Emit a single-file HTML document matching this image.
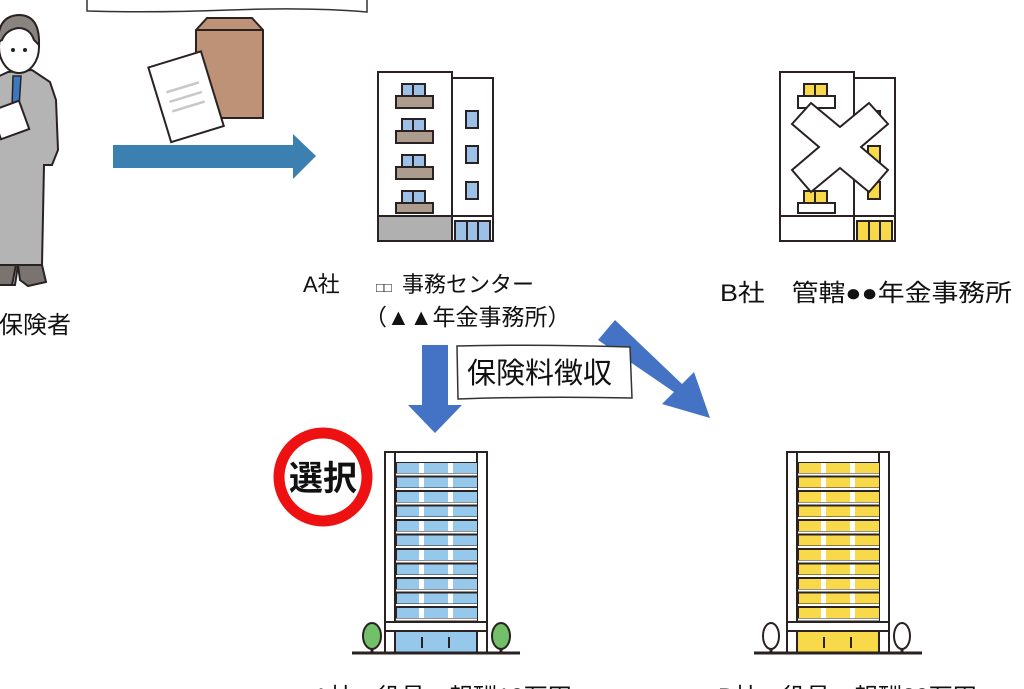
<!DOCTYPE html>
<html><head><meta charset="utf-8"><style>
html,body{margin:0;padding:0;background:#fff;}
svg{display:block;}
text{font-family:"Liberation Sans","Noto Sans CJK JP",sans-serif;fill:#111;}
</style></head><body>
<svg width="1024" height="689" viewBox="0 0 1024 689" xmlns="http://www.w3.org/2000/svg">
<defs>
<g id="rowA">
<rect x="396" y="0" width="81" height="14.5" fill="#2a2222"/>
<rect x="397" y="1" width="22" height="10" fill="#95c8ea"/>
<rect x="424" y="1" width="24" height="10" fill="#95c8ea"/>
<rect x="453" y="1" width="24" height="10" fill="#95c8ea"/>
<rect x="419" y="1" width="5" height="10" fill="#fff"/>
<rect x="448" y="1" width="5" height="10" fill="#fff"/>
<rect x="396" y="11.5" width="81" height="2" fill="#fff"/>
</g>
<g id="rowB">
<rect x="396" y="0" width="81" height="14.5" fill="#2a2222"/>
<rect x="397" y="1" width="22" height="10" fill="#f8d94a"/>
<rect x="424" y="1" width="24" height="10" fill="#f8d94a"/>
<rect x="453" y="1" width="24" height="10" fill="#f8d94a"/>
<rect x="419" y="1" width="5" height="10" fill="#fff"/>
<rect x="448" y="1" width="5" height="10" fill="#fff"/>
<rect x="396" y="11.5" width="81" height="2" fill="#fff"/>
</g>
</defs>
<path d="M87,-5 L87,11 Q150,13 230,10 T367,12 L367,-5" fill="#fff" stroke="#333" stroke-width="1.5"/>
<path d="M196,30 L207,18 L252,18 L263,30 L263,118 L196,118 Z" fill="#bd9276" stroke="#2a2222" stroke-width="2"/>
<line x1="196" y1="30" x2="263" y2="30" stroke="#2a2222" stroke-width="2"/>
<g transform="rotate(-17 185 95)">
<rect x="158" y="58" width="55" height="78" fill="#fff" stroke="#2a2222" stroke-width="2"/>
<line x1="168" y1="87" x2="202" y2="87" stroke="#c8c8c8" stroke-width="2.5"/>
<line x1="168" y1="97" x2="202" y2="97" stroke="#c8c8c8" stroke-width="2.5"/>
<line x1="168" y1="107" x2="202" y2="107" stroke="#c8c8c8" stroke-width="2.5"/>
</g>
<path d="M113,145 L293,145 L293,134 L316,156 L293,179 L293,168 L113,168 Z" fill="#3c80b2"/>
<g stroke="#2a2222" stroke-width="2">
<path d="M-5,78 L8,72 L32,70 L50,82 L56,100 L58,150 L52,165 L44,165 L42,265 L20,265 L18,265 L15,285 L-5,285 Z" fill="#b4b4b4"/>
<path d="M18,265 L42,265 L46,282 L28,286 L20,280 Z" fill="#7a7470"/>
<path d="M-5,265 L16,265 L12,285 L-5,285 Z" fill="#7a7470"/>
<ellipse cx="19" cy="47" rx="20" ry="26" fill="#fff"/>
<path d="M-2,42 Q-2,15 20,15 Q40,16 39,45 L34,40 Q30,28 18,28 Q6,30 2,40 Z" fill="#8a8480"/>
<path d="M13,76 L21,76 L19,108 L16,112 L12,108 Z" fill="#3a78c0" stroke-width="1.5"/>
<rect x="-5" y="105" width="30" height="30" fill="#fff" transform="rotate(-20 10 120)"/>
</g>
<circle cx="13" cy="50" r="2" fill="#222"/><circle cx="25" cy="50" r="2" fill="#222"/>
<text x="-25" y="333" font-size="24">被保険者</text>

<g stroke="#2a2222" stroke-width="2">
<rect x="378" y="72" width="74" height="169" fill="#fff"/>
<rect x="452" y="78" width="41" height="163" fill="#fff"/>
<rect x="378" y="216" width="74" height="25" fill="#b0b0b0"/>
<line x1="452" y1="216" x2="493" y2="216"/>
<rect x="455" y="221" width="35" height="20" fill="#9cc0e6"/>
<line x1="467" y1="221" x2="467" y2="241"/><line x1="478" y1="221" x2="478" y2="241"/>
<g fill="#9cc0e6">
<rect x="402" y="84" width="23" height="12"/><rect x="402" y="119" width="23" height="12"/>
<rect x="402" y="155" width="23" height="12"/><rect x="402" y="191" width="23" height="12"/>
<rect x="466" y="111" width="12" height="17"/><rect x="466" y="146" width="12" height="17"/><rect x="466" y="182" width="12" height="17"/>
</g>
<g fill="#ab9c8e">
<rect x="396" y="96" width="37" height="12"/><rect x="396" y="131" width="37" height="12"/>
<rect x="396" y="167" width="37" height="12"/><rect x="396" y="203" width="37" height="10"/>
</g>
<line x1="413" y1="84" x2="413" y2="96"/><line x1="413" y1="119" x2="413" y2="131"/>
<line x1="413" y1="155" x2="413" y2="167"/><line x1="413" y1="191" x2="413" y2="203"/>
</g>

<g stroke="#2a2222" stroke-width="2">
<rect x="780" y="72" width="74" height="169" fill="#fff"/>
<rect x="854" y="78" width="41" height="163" fill="#fff"/>
<line x1="780" y1="216" x2="895" y2="216"/>
<rect x="857" y="221" width="35" height="20" fill="#f8d94a"/>
<line x1="869" y1="221" x2="869" y2="241"/><line x1="880" y1="221" x2="880" y2="241"/>
<g fill="#f8d94a">
<rect x="804" y="84" width="23" height="12"/><rect x="804" y="191" width="23" height="12"/>
<rect x="868" y="111" width="12" height="17"/><rect x="868" y="146" width="12" height="17"/><rect x="868" y="182" width="12" height="17"/>
</g>
<g fill="#fff">
<rect x="798" y="96" width="37" height="12"/><rect x="798" y="203" width="37" height="10"/>
</g>
<line x1="815" y1="84" x2="815" y2="96"/><line x1="815" y1="191" x2="815" y2="203"/>
<path d="M792,124 L811,103 L840,127 L869,103 L888,124 L861,147 L888,170 L869,192 L840,168 L811,192 L792,170 L819,147 Z" fill="#fff"/>
</g>

<text x="303" y="292" font-size="22">A社</text>
<text x="376" y="292" font-size="13">□□</text>
<text x="402" y="292" font-size="22">事務センター</text>
<text x="364" y="325" font-size="23">（▲▲年金事務所）</text>
<text x="720" y="301" font-size="24" textLength="292" lengthAdjust="spacingAndGlyphs">B社　管轄●●年金事務所</text>

<path d="M422,345 L448,345 L448,405 L462,405 L435,433 L408,405 L422,405 Z" fill="#4472c4"/>
<path d="M598,340 L615,320 L682,384 L694,372 L710,418 L662,404 L674,392 Z" fill="#4472c4"/>
<path d="M457,346 Q540,344 630,347 L632,398 Q545,396 458,399 Z" fill="#fff" stroke="#333" stroke-width="1.5"/>
<text x="467" y="383" font-size="29">保険料徴収</text>

<rect x="385" y="452" width="102" height="201" fill="#fff" stroke="#2a2222" stroke-width="2"/>
<rect x="395" y="452" width="82" height="200" fill="none" stroke="#2a2222" stroke-width="2"/>
<use href="#rowA" y="462"/><use href="#rowA" y="476.5"/><use href="#rowA" y="491"/><use href="#rowA" y="505.5"/>
<use href="#rowA" y="520"/><use href="#rowA" y="534.5"/><use href="#rowA" y="549"/><use href="#rowA" y="563.5"/>
<use href="#rowA" y="578"/><use href="#rowA" y="592.5"/><use href="#rowA" y="607"/>
<rect x="385" y="622" width="102" height="9" fill="#fff" stroke="#2a2222" stroke-width="2"/>
<rect x="395" y="631" width="82" height="22" fill="#95c8ea" stroke="#2a2222" stroke-width="2"/>
<line x1="422" y1="637" x2="422" y2="648" stroke="#2a2222" stroke-width="2"/>
<line x1="449" y1="637" x2="449" y2="648" stroke="#2a2222" stroke-width="2"/>
<line x1="352" y1="653" x2="520" y2="653" stroke="#2a2222" stroke-width="3"/>
<g stroke="#2a2222" stroke-width="2" fill="#72c06a">
<ellipse cx="372" cy="636" rx="9" ry="13"/><ellipse cx="501" cy="636" rx="9" ry="13"/>
</g>
<line x1="372" y1="648" x2="372" y2="653" stroke="#2a2222" stroke-width="3"/>
<line x1="501" y1="648" x2="501" y2="653" stroke="#2a2222" stroke-width="3"/>

<g transform="translate(402,0)">
<rect x="385" y="452" width="102" height="201" fill="#fff" stroke="#2a2222" stroke-width="2"/>
<rect x="395" y="452" width="82" height="200" fill="none" stroke="#2a2222" stroke-width="2"/>
<use href="#rowB" y="462"/><use href="#rowB" y="476.5"/><use href="#rowB" y="491"/><use href="#rowB" y="505.5"/>
<use href="#rowB" y="520"/><use href="#rowB" y="534.5"/><use href="#rowB" y="549"/><use href="#rowB" y="563.5"/>
<use href="#rowB" y="578"/><use href="#rowB" y="592.5"/><use href="#rowB" y="607"/>
<rect x="385" y="622" width="102" height="9" fill="#fff" stroke="#2a2222" stroke-width="2"/>
<rect x="395" y="631" width="82" height="22" fill="#f8d94a" stroke="#2a2222" stroke-width="2"/>
<line x1="422" y1="637" x2="422" y2="648" stroke="#2a2222" stroke-width="2"/>
<line x1="449" y1="637" x2="449" y2="648" stroke="#2a2222" stroke-width="2"/>
<line x1="352" y1="653" x2="520" y2="653" stroke="#2a2222" stroke-width="3"/>
<g stroke="#2a2222" stroke-width="2" fill="#fff">
<ellipse cx="369" cy="636" rx="8" ry="13"/><ellipse cx="500" cy="636" rx="8" ry="13"/>
</g>
<line x1="369" y1="648" x2="369" y2="653" stroke="#2a2222" stroke-width="3"/>
<line x1="500" y1="648" x2="500" y2="653" stroke="#2a2222" stroke-width="3"/>
</g>

<circle cx="323" cy="477" r="44" fill="#fff" stroke="#ee1111" stroke-width="11"/>
<text x="323" y="490" font-size="34" font-weight="bold" text-anchor="middle">選択</text>

<text x="313" y="705" font-size="24">A社　役員　報酬10万円</text>
<text x="718" y="705" font-size="24">B社　役員　報酬20万円</text>
</svg>
</body></html>
